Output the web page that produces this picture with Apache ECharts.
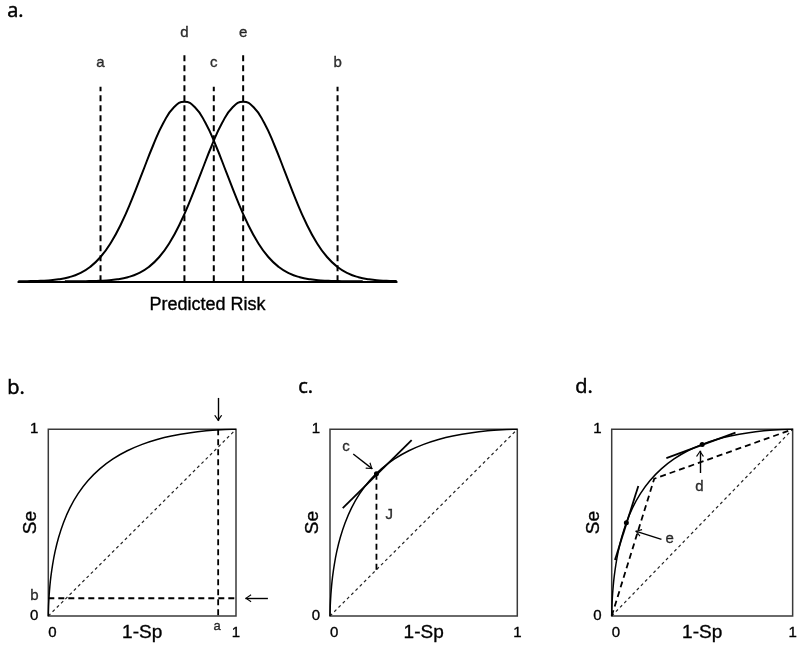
<!DOCTYPE html>
<html>
<head>
<meta charset="utf-8">
<script src="https://cdn.jsdelivr.net/npm/echarts@6/dist/echarts.min.js"></script>
<style>
  html, body { margin: 0; padding: 0; background: #fff; }
  #chart { width: 800px; height: 646px; }
</style>
</head>
<body>
<div id="chart"></div>
<script>
// ---------- Panel a: predicted-risk distributions ----------
// x in SD units (0 = cutoff c), density scaled so each peak is 1
const nonCasesDensity = [
  [-4.66, 0.0003], [-4.45, 0.0009], [-4.2, 0.0022], [-3.95, 0.0051], [-3.7, 0.0111],
  [-3.45, 0.0228], [-3.2, 0.0439], [-2.95, 0.0796], [-2.7, 0.1353], [-2.45, 0.2163],
  [-2.2, 0.3247], [-1.95, 0.4578], [-1.7, 0.6065], [-1.45, 0.7548], [-1.2, 0.8825],
  [-0.95, 0.9692], [-0.7, 1], [-0.45, 0.9692], [-0.2, 0.8825], [0.05, 0.7548],
  [0.3, 0.6065], [0.55, 0.4578], [0.8, 0.3247], [1.05, 0.2163], [1.3, 0.1353],
  [1.55, 0.0796], [1.8, 0.0439], [2.05, 0.0228], [2.3, 0.0111], [2.55, 0.0051],
  [2.8, 0.0022], [3.05, 0.0009], [3.3, 0.0003], [3.55, 0.0001]
];
const casesDensity = [
  [-3.55, 0.0001], [-3.3, 0.0003], [-3.05, 0.0009], [-2.8, 0.0022], [-2.55, 0.0051],
  [-2.3, 0.0111], [-2.05, 0.0228], [-1.8, 0.0439], [-1.55, 0.0796], [-1.3, 0.1353],
  [-1.05, 0.2163], [-0.8, 0.3247], [-0.55, 0.4578], [-0.3, 0.6065], [-0.05, 0.7548],
  [0.2, 0.8825], [0.45, 0.9692], [0.7, 1], [0.95, 0.9692], [1.2, 0.8825],
  [1.45, 0.7548], [1.7, 0.6065], [1.95, 0.4578], [2.2, 0.3247], [2.45, 0.2163],
  [2.7, 0.1353], [2.95, 0.0796], [3.2, 0.0439], [3.45, 0.0228], [3.7, 0.0111],
  [3.95, 0.0051], [4.2, 0.0022], [4.36, 0.0012]
];
const riskMin = -4.66, riskMax = 4.36;
const cutoffNames  = ['a', 'd', 'c', 'e', 'b'];
const cutoffRisk   = [-2.7, -0.7, 0, 0.7, 2.95];
const cutoffHeight = [1.084, 1.279, 1.084, 1.279, 1.084];
const cutoffLabelY = [1.216, 1.383, 1.216, 1.383, 1.216];

// ---------- Panels b-d: ROC curve (1-Sp, Se) ----------
const rocCurve = [
  [0, 0], [0.00003, 0.0047], [0.00023, 0.0179], [0.00135, 0.0548], [0.0026, 0.0808],
  [0.0047, 0.1151], [0.0082, 0.1587], [0.0139, 0.2119], [0.0228, 0.2743], [0.0359, 0.3446],
  [0.0548, 0.4207], [0.0808, 0.5], [0.1151, 0.5793], [0.1587, 0.6554], [0.2119, 0.7257],
  [0.2743, 0.7881], [0.3446, 0.8413], [0.4207, 0.8849], [0.5, 0.9192], [0.5793, 0.9452],
  [0.6554, 0.9641], [0.758, 0.9821], [0.8413, 0.9918], [0.9192, 0.9974], [0.9772, 0.9997],
  [1, 1]
];
const chanceLine = [[0, 0], [1, 1]];

// b: extreme cutoffs a and b
const cutA_oneMinusSp = 0.905;
const cutB_se = 0.095;

// c: Youden point
const pointC = [0.248, 0.762];
const tangentC = [[0.068, 0.578], [0.436, 0.942]];
const youdenJ = [[0.248, 0.248], [0.248, 0.762]];

// d: cutoffs at the group means
const pointE = [0.081, 0.5];
const tangentE = [[0.018, 0.30], [0.147, 0.696]];
const pointD = [0.5, 0.919];
const tangentD = [[0.302, 0.846], [0.684, 0.982]];
const twoPointROC = [[0, 0], [0.235, 0.735], [1, 1]];

// ---------- styling helpers ----------
const FONT = 'Liberation Sans, Arial, sans-serif';
const INK = '#000';
// a hairline outline gives the small labels a little more weight
const TEXT_WEIGHT = { textBorderColor: '#000', textBorderWidth: 0.35 };
const DASH = { color: '#000', width: 1.8, type: [6, 4], opacity: 1 };
const FINE_DASH = { color: '#222', width: 1.2, type: [3, 3], opacity: 1 };
const TANGENT = { color: '#000', width: 1.8, type: 'solid', opacity: 1 };
// open chevron arrow head, tip at the symbol centre
const CHEVRON = 'path://M-2,-6 L-1.99,-6 Z M10,6 L10.01,6 Z M0,6 L4,0 L8,6 L6.9,6.6 L4,1.9 L1.1,6.6 Z';

function curve(g, data, width, smooth) {
  return {
    type: 'line', xAxisIndex: g, yAxisIndex: g, data: data, smooth: smooth,
    showSymbol: false, silent: true, animation: false,
    lineStyle: { color: '#000', width: width }
  };
}
function segments(g, list, style) {
  return {
    type: 'lines', coordinateSystem: 'cartesian2d', xAxisIndex: g, yAxisIndex: g,
    polyline: true, clip: false, silent: true, animation: false,
    lineStyle: style, data: list.map(c => ({ coords: c }))
  };
}
function arrows(g, list) {
  return {
    type: 'lines', coordinateSystem: 'cartesian2d', xAxisIndex: g, yAxisIndex: g,
    clip: false, silent: true, animation: false,
    symbol: ['none', CHEVRON], symbolSize: 12,
    lineStyle: { color: '#000', width: 1.4, type: 'solid', opacity: 1 },
    data: list.map(c => ({ coords: c }))
  };
}
function dots(g, list) {
  return {
    type: 'scatter', xAxisIndex: g, yAxisIndex: g, data: list, symbolSize: 5,
    silent: true, animation: false, itemStyle: { color: '#000', opacity: 1 }
  };
}
function texts(g, list, size) {
  return {
    type: 'scatter', xAxisIndex: g, yAxisIndex: g, clip: false, silent: true, animation: false,
    symbolSize: 0, itemStyle: { color: 'transparent' },
    data: list.map(t => ({ value: t.at, name: t.text })),
    label: Object.assign({ show: true, position: 'inside', formatter: '{b}', color: INK, fontSize: size, fontFamily: FONT }, TEXT_WEIGHT)
  };
}

// ---------- axes ----------
const rocGrid = { top: 429.3, height: 186.7, show: true, borderColor: '#3a3a3a', borderWidth: 1.5 };
const grids = [
  { left: 18.3, top: 29.9, width: 378.4, height: 251.4 },
  Object.assign({ left: 48.3, width: 187.7 }, rocGrid),
  Object.assign({ left: 330, width: 187.3 }, rocGrid),
  Object.assign({ left: 611.7, width: 187.6 }, rocGrid)
];
function rocX(g) {
  return {
    type: 'value', gridIndex: g, min: 0, max: 1, interval: 1,
    axisLine: { show: false }, axisTick: { show: false }, splitLine: { show: false },
    axisLabel: Object.assign({ margin: 9, fontSize: 15, color: INK, fontFamily: FONT, alignMinLabel: 'left' }, TEXT_WEIGHT),
    name: '1-Sp', nameLocation: 'middle', nameGap: 7, nameMoveOverlap: false,
    nameTextStyle: Object.assign({ fontSize: 19, color: INK, fontFamily: FONT }, TEXT_WEIGHT)
  };
}
function rocY(g) {
  return {
    type: 'value', gridIndex: g, min: 0, max: 1, interval: 1,
    axisLine: { show: false }, axisTick: { show: false }, splitLine: { show: false },
    axisLabel: Object.assign({ margin: 10, fontSize: 15, color: INK, fontFamily: FONT }, TEXT_WEIGHT),
    name: 'Se', nameLocation: 'middle', nameGap: 8, nameMoveOverlap: false,
    nameTextStyle: Object.assign({ fontSize: 19, color: INK, fontFamily: FONT }, TEXT_WEIGHT)
  };
}
const xAxes = [
  {
    type: 'value', gridIndex: 0, min: riskMin, max: riskMax,
    axisLine: { show: true, onZero: false, lineStyle: { color: '#000', width: 2 } },
    axisTick: { show: false }, axisLabel: { show: false }, splitLine: { show: false },
    name: 'Predicted Risk', nameLocation: 'middle', nameGap: 15, nameMoveOverlap: false,
    nameTextStyle: Object.assign({ fontSize: 18, color: INK, fontFamily: FONT }, TEXT_WEIGHT)
  },
  rocX(1), rocX(2), rocX(3)
];
const yAxes = [
  { type: 'value', gridIndex: 0, min: 0, max: 1.4, show: false },
  rocY(1), rocY(2), rocY(3)
];

// ---------- series ----------
const series = [];
// a
series.push(curve(0, nonCasesDensity, 2, 0.5));
series.push(curve(0, casesDensity, 2, 0.5));
series.push(segments(0, cutoffRisk.map((x, i) => [[x, 0], [x, cutoffHeight[i]]]), { color: '#000', width: 2, type: [6, 4], opacity: 1 }));
series.push(texts(0, cutoffNames.map((n, i) => ({ at: [cutoffRisk[i], cutoffLabelY[i]], text: n })), 15));

// b
series.push(segments(1, [chanceLine], FINE_DASH));
series.push(curve(1, rocCurve, 1.5, 0.2));
series.push(segments(1, [
  [[cutA_oneMinusSp, 1], [cutA_oneMinusSp, 0]],
  [[0, cutB_se], [1, cutB_se]]
], DASH));
series.push(arrows(1, [
  [[cutA_oneMinusSp, 1.168], [cutA_oneMinusSp, 1.045]],
  [[1.17, cutB_se], [1.05, cutB_se]]
]));
series.push(texts(1, [{ at: [-0.0735, 0.107], text: 'b' }], 15));
series.push(texts(1, [{ at: [0.9, -0.057], text: 'a' }], 13));

// c
series.push(segments(2, [chanceLine], FINE_DASH));
series.push(curve(2, rocCurve, 1.5, 0.2));
series.push(segments(2, [tangentC], TANGENT));
series.push(segments(2, [youdenJ], DASH));
series.push(dots(2, [pointC]));
series.push(arrows(2, [[[0.124, 0.868], [0.226, 0.788]]]));
series.push(texts(2, [{ at: [0.085, 0.907], text: 'c' }, { at: [0.317, 0.541], text: 'J' }], 15));

// d
series.push(segments(3, [chanceLine], FINE_DASH));
series.push(segments(3, [twoPointROC], DASH));
series.push(curve(3, rocCurve, 1.5, 0.2));
series.push(segments(3, [tangentE, tangentD], TANGENT));
series.push(dots(3, [pointE, pointD]));
series.push(arrows(3, [
  [[0.275, 0.41], [0.132, 0.455]],
  [[0.488, 0.766], [0.488, 0.885]]
]));
series.push(texts(3, [{ at: [0.32, 0.415], text: 'e' }, { at: [0.485, 0.69], text: 'd' }], 15));

// ---------- panel letters ----------
const panelTitles = [
  { text: 'a.', x: 7, y: 13 },
  { text: 'b.', x: 7, y: 390 },
  { text: 'c.', x: 298, y: 389 },
  { text: 'd.', x: 575, y: 389 }
];

const chart = echarts.init(document.getElementById('chart'), null, { renderer: 'canvas' });
chart.setOption({
  animation: false,
  backgroundColor: '#fff',
  grid: grids,
  xAxis: xAxes,
  yAxis: yAxes,
  series: series,
  graphic: panelTitles.map(t => ({
    type: 'text', left: t.x, top: t.y - 12,
    style: {
      text: t.text, fontSize: 20, fill: '#000',
      stroke: '#000', lineWidth: 0.5,
      fontFamily: 'Open Sans, Liberation Sans, sans-serif'
    }
  }))
});
</script>
</body>
</html>
